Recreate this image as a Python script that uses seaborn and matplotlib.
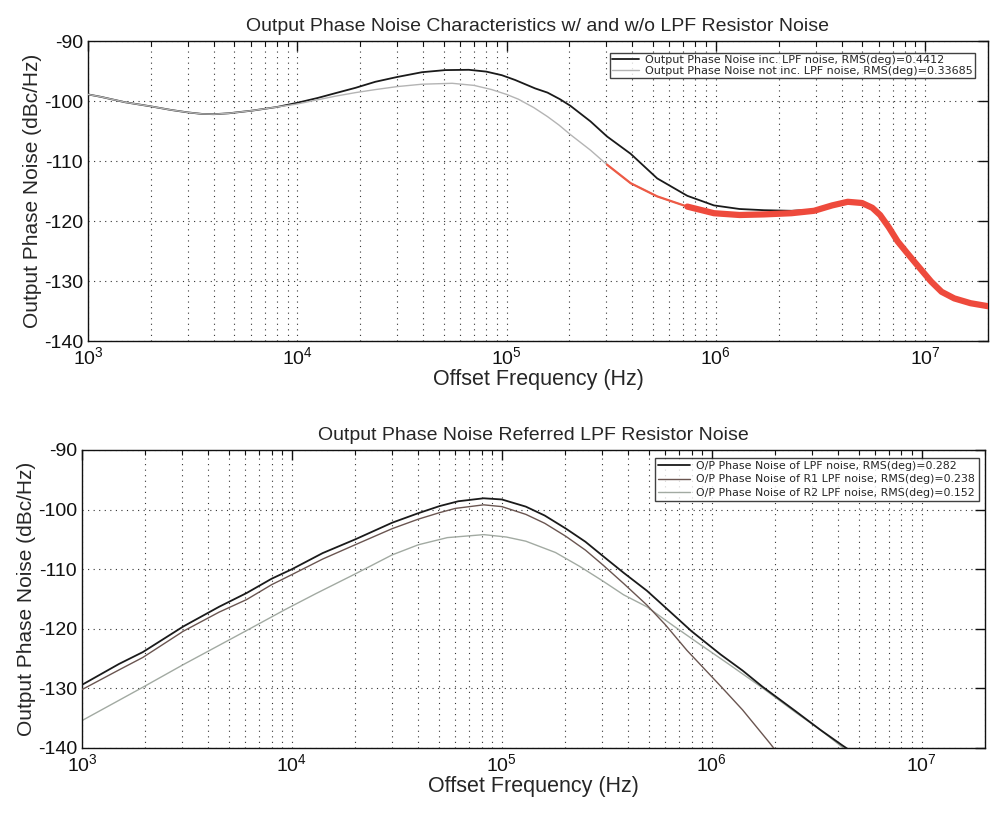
import numpy as np
import pandas as pd
import matplotlib
matplotlib.use("Agg")
import matplotlib.pyplot as plt
import seaborn as sns
from matplotlib.ticker import LogLocator, FixedLocator

# ---------------- data ----------------
top_title = "Output Phase Noise Characteristics w/ and w/o LPF Resistor Noise"
bot_title = "Output Phase Noise Referred LPF Resistor Noise"
xlabel = "Offset Frequency (Hz)"
ylabel = "Output Phase Noise (dBc/Hz)"

inc_label = "Output Phase Noise inc. LPF noise, RMS(deg)=0.4412"
inc_f = [1000, 1150, 1500, 2000, 2500, 3000, 3500, 4000, 4700, 6100, 8000, 10000,
         12500, 15200, 19000, 23600, 30000, 39500, 51000, 66000, 80000, 95000,
         110000, 137000, 157000, 180000, 202000, 252000, 302000, 392000, 525000,
         731000, 980000, 1300000, 1700000, 2300000, 2950000, 3600000, 4270000,
         5000000, 5600000, 6100000, 6700000, 7400000, 8200000, 8900000, 10700000,
         12000000, 13800000, 16500000, 20000000]
inc_v = [-98.9, -99.3, -100.2, -100.9, -101.5, -101.9, -102.15, -102.2, -102.05,
         -101.6, -101.0, -100.3, -99.5, -98.7, -97.8, -96.8, -96.0, -95.2, -94.85,
         -94.8, -95.1, -95.7, -96.5, -97.9, -98.6, -99.7, -100.8, -103.4, -105.9,
         -108.8, -112.9, -115.8, -117.4, -118.0, -118.2, -118.3, -118.1, -117.3,
         -116.7, -116.9, -117.7, -118.9, -120.9, -123.3, -125.2, -126.7, -130.0,
         -131.7, -132.8, -133.6, -134.1]

not_label = "Output Phase Noise not inc. LPF noise, RMS(deg)=0.33685"
not_f = [1000, 1150, 1500, 2000, 2500, 3000, 3500, 4000, 4700, 6100, 8000, 10000,
         12500, 15200, 19000, 23600, 30000, 39500, 55000, 70000, 85000, 100000,
         114000, 135000, 157000, 178000, 202000, 252000, 302000, 392000, 525000,
         731000, 980000, 1300000, 1700000, 2300000, 2950000, 3600000, 4270000,
         5000000, 5600000, 6100000, 6700000, 7400000, 8200000, 8900000, 10700000,
         12000000, 13800000, 16500000, 20000000]
not_v = [-98.9, -99.3, -100.2, -100.9, -101.5, -101.9, -102.15, -102.2, -102.05,
         -101.6, -101.0, -100.5, -99.8, -99.2, -98.6, -98.1, -97.6, -97.2, -97.05,
         -97.4, -98.1, -98.9, -99.7, -101.1, -102.6, -104.0, -105.6, -108.2, -110.6,
         -113.7, -115.9, -117.6, -118.7, -119.0, -118.9, -118.7, -118.3, -117.4,
         -116.8, -117.0, -117.8, -119.0, -121.0, -123.4, -125.3, -126.8, -130.1,
         -131.8, -132.9, -133.7, -134.2]

lpf_label = "O/P Phase Noise of LPF noise, RMS(deg)=0.282"
lpf_f = [1000, 1500, 1950, 3040, 4500, 6080, 8000, 10000, 14000, 20000, 30000,
         40000, 50600, 62000, 81900, 100000, 130000, 160000, 202000, 250000,
         303000, 380000, 490000, 600000, 800000, 1100000, 1400000, 1740000,
         2500000, 3300000, 4200000, 4500000]
lpf_v = [-129.4, -125.9, -123.9, -119.6, -116.3, -114.0, -111.6, -110.0, -107.3,
         -105.0, -102.2, -100.6, -99.4, -98.6, -98.1, -98.3, -99.5, -101.0, -103.2,
         -105.4, -107.8, -110.6, -113.6, -116.4, -120.4, -124.3, -127.0, -129.7,
         -133.8, -137.0, -139.6, -140.3]

r1_label = "O/P Phase Noise of R1 LPF noise, RMS(deg)=0.238"
r1_f = [1000, 1500, 1950, 3040, 4500, 6080, 8000, 10000, 14000, 20000, 30000,
        40000, 50600, 60000, 81900, 100000, 130000, 160000, 202000, 250000, 303000,
        380000, 490000, 600000, 760000, 1100000, 1400000, 1890000, 2000000]
r1_v = [-130.2, -126.9, -124.8, -120.4, -117.2, -115.1, -112.6, -110.9, -108.3,
        -105.9, -103.2, -101.6, -100.5, -99.8, -99.2, -99.5, -100.8, -102.3, -104.5,
        -106.8, -109.3, -112.4, -116.0, -119.3, -123.6, -129.6, -133.6, -139.2,
        -140.3]

r2_label = "O/P Phase Noise of R2 LPF noise, RMS(deg)=0.152"
r2_f = [1000, 1950, 3040, 6000, 9250, 13000, 20000, 30000, 40000, 55000, 82000,
        105000, 130000, 180000, 234000, 303000, 380000, 490000, 650000, 877000,
        1200000, 1740000, 2500000, 3300000, 4300000]
r2_v = [-135.4, -129.8, -126.0, -120.4, -116.8, -114.1, -110.8, -107.6, -105.9,
        -104.7, -104.2, -104.6, -105.3, -107.2, -109.5, -112.0, -114.3, -116.3,
        -119.4, -122.6, -125.9, -129.9, -134.0, -137.0, -140.2]

yticks = [-140, -130, -120, -110, -100, -90]
red_start = 300000  # the noisy red band begins here in the top panel
red_thick = 700000

# ---------------- style ----------------
sns.set_style("white")
plt.rcParams['font.family'] = ['Liberation Sans', 'DejaVu Sans']
plt.rcParams['mathtext.fontset'] = 'custom'
plt.rcParams['mathtext.rm'] = 'Liberation Sans'
plt.rcParams['mathtext.it'] = 'Liberation Sans'
plt.rcParams['axes.unicode_minus'] = False

fig = plt.figure(figsize=(9.9, 8.13), dpi=100)
W, H = 990, 813
ax1 = fig.add_axes([88 / W, 1 - 341 / H, (988 - 88) / W, (341 - 41) / H])
ax2 = fig.add_axes([82 / W, 1 - 748 / H, (985 - 82) / W, (748 - 450) / H])


def draw(ax, f, v, color, lw, label=None, z=2):
    df = pd.DataFrame({"f": f, "v": v})
    sns.lineplot(data=df, x="f", y="v", ax=ax, color=color, linewidth=lw,
                 label=label, legend=False if label is None else "auto",
                 zorder=z)


# top panel
draw(ax1, inc_f, inc_v, "#1a1a1a", 1.3, inc_label, 2)
draw(ax1, not_f, not_v, "#b4b4b4", 1.0, not_label, 3)
sub = [(f, v) for f, v in zip(not_f, not_v) if f >= red_start]
draw(ax1, [s[0] for s in sub], [s[1] for s in sub], "#ee5a45", 1.6, None, 4)
sub = [(f, v) for f, v in zip(not_f, not_v) if f >= red_thick]
draw(ax1, [s[0] for s in sub], [s[1] for s in sub], "#ee4a3c", 4.5, None, 4)

# bottom panel
draw(ax2, lpf_f, lpf_v, "#1a1a1a", 1.3, lpf_label, 4)
draw(ax2, r1_f, r1_v, "#6a5550", 1.0, r1_label, 3)
draw(ax2, r2_f, r2_v, "#a2aaa2", 1.0, r2_label, 2)

for ax, title in [(ax1, top_title), (ax2, bot_title)]:
    ax.set_xscale("log")
    ax.set_xlim(1e3, 2e7)
    ax.set_ylim(-140, -90)
    ax.yaxis.set_major_locator(FixedLocator(yticks))
    ax.xaxis.set_major_locator(LogLocator(base=10, numticks=10))
    ax.xaxis.set_minor_locator(LogLocator(base=10, subs=np.arange(2, 10), numticks=20))
    ax.grid(True, which="major", axis="both", color="#333333",
            linestyle=(0, (1, 4)), linewidth=0.8)
    ax.grid(True, which="minor", axis="x", color="#333333",
            linestyle=(0, (1, 4)), linewidth=0.8)
    ax.tick_params(which="both", direction="in", top=True, right=True,
                   labelsize=14, colors="#111111")
    ax.tick_params(which="major", length=7, width=1)
    ax.tick_params(which="minor", length=3.5, width=0.8)
    for s in ax.spines.values():
        s.set_color("#111111")
        s.set_linewidth(1.0)
    ax.set_xlabel(xlabel, fontsize=15.5, labelpad=1)
    ax.set_ylabel(ylabel, fontsize=15, labelpad=1)
    ax.set_title(title, fontsize=14, pad=7)

leg1 = ax1.legend(loc="upper right", bbox_to_anchor=(0.992, 0.98),
                  prop={"family": "DejaVu Sans", "size": 8},
                  frameon=True, fancybox=False, edgecolor="#111111",
                  handlelength=2.4, handletextpad=0.6, borderpad=0.2,
                  labelspacing=0.1)
leg1.get_frame().set_linewidth(1.0)
leg2 = ax2.legend(loc="upper right", bbox_to_anchor=(0.999, 0.992),
                  prop={"family": "DejaVu Sans", "size": 7.9},
                  frameon=True, fancybox=False, edgecolor="#111111",
                  handlelength=2.9, handletextpad=0.6, borderpad=0.3,
                  labelspacing=0.3)
leg2.get_frame().set_linewidth(1.0)

fig.savefig("out.png", dpi=100, facecolor="white")
